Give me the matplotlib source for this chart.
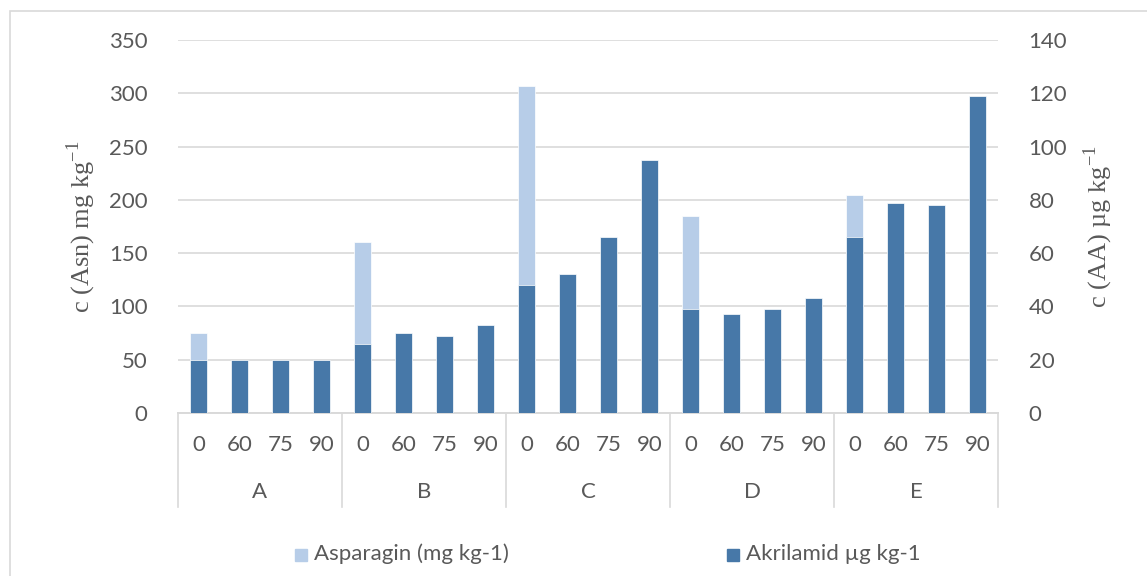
import numpy as np
import matplotlib
matplotlib.use('Agg')
import matplotlib.pyplot as plt
from matplotlib.patches import Rectangle
from matplotlib.transforms import blended_transform_factory

groups = ['A', 'B', 'C', 'D', 'E']
temps = ['0', '60', '75', '90']

# Asparagin (mg kg-1), left axis -- only the 0 bars show above the dark ones
asparagin = [75, 0, 0, 0,
             160, 0, 0, 0,
             307, 0, 0, 0,
             185, 0, 0, 0,
             205, 0, 0, 0]
# Akrilamid (ug kg-1), right axis
akrilamid = [20, 20, 20, 20,
             26, 30, 29, 33,
             48, 52, 66, 95,
             39, 37, 39, 43,
             66, 79, 78, 119]

light = '#B7CDE8'
dark = '#4778A8'
grey = '#595959'
gridc = '#D9D9D9'

plt.rcParams['font.family'] = ['Lato', 'DejaVu Sans']

fig = plt.figure(figsize=(11.47, 5.76), dpi=100)
W, H = 1147, 576

# outer chart border
fig.patches.append(Rectangle((10 / W, -0.1), 1.2, 1 - 11 / H + 0.1,
                             transform=fig.transFigure, fill=False,
                             edgecolor='#D9D9D9', lw=1.2))

ax = fig.add_axes([178 / W, 1 - 413 / H, (998 - 178) / W, (413 - 40) / H])
x = np.arange(len(akrilamid))
ax.bar(x, asparagin, width=0.4, color=light, edgecolor='white', lw=0.5, zorder=2)
ax.set_ylim(0, 350)
ax.set_yticks(np.arange(0, 351, 50))
ax.set_xlim(-0.5, len(x) - 0.5)
ax.grid(axis='y', color=gridc, lw=1.2, zorder=0)
ax.set_axisbelow(True)

ax2 = ax.twinx()
ax2.bar(x, akrilamid, width=0.4, color=dark, edgecolor='white', lw=0.5, zorder=3)
ax2.set_ylim(0, 140)
ax2.set_yticks(np.arange(0, 141, 20))

for a in (ax, ax2):
    for s in ['top', 'left', 'right']:
        a.spines[s].set_visible(False)
    a.spines['bottom'].set_color(gridc)
    a.spines['bottom'].set_linewidth(1.2)
    a.tick_params(axis='y', length=0, labelsize=16, colors=grey)
ax.tick_params(axis='y', pad=22)
ax2.tick_params(axis='y', pad=22)
ax.set_xticks([])
ax2.set_xticks([])

ax.set_ylabel('c (Asn) mg kg$^{\\mathregular{-1}}$', family='Liberation Serif',
              fontsize=19, color=grey, labelpad=8)
ax2.set_ylabel('c (AA) µg kg$^{\\mathregular{-1}}$', family='Liberation Serif',
               fontsize=19, color=grey, labelpad=10)

# two-level category axis
tr = blended_transform_factory(ax.transData, ax.transAxes)
ph = 413 - 40
for i in range(len(x)):
    ax.text(i, -32 / ph, temps[i % 4], transform=tr, ha='center', va='center',
            fontsize=16, color=grey)
for g, name in enumerate(groups):
    ax.text(g * 4 + 1.5, -79 / ph, name, transform=tr, ha='center', va='center',
            fontsize=16, color=grey)
for b in range(len(groups) + 1):
    ax.plot([b * 4 - 0.5, b * 4 - 0.5], [0, -94 / ph], transform=tr,
            color=gridc, lw=1.2, clip_on=False)

# legend
fig.patches.append(Rectangle((295 / W, 1 - 561 / H), 12 / W, 12 / H,
                             transform=fig.transFigure, color=light))
fig.text(314 / W, 1 - 554 / H, 'Asparagin (mg kg-1)', fontsize=16, color=grey,
         va='center')
fig.patches.append(Rectangle((727 / W, 1 - 561 / H), 12 / W, 12 / H,
                             transform=fig.transFigure, color=dark))
fig.text(746 / W, 1 - 554 / H, 'Akrilamid µg kg-1', fontsize=16, color=grey,
         va='center')

plt.savefig('out.png', dpi=100)
